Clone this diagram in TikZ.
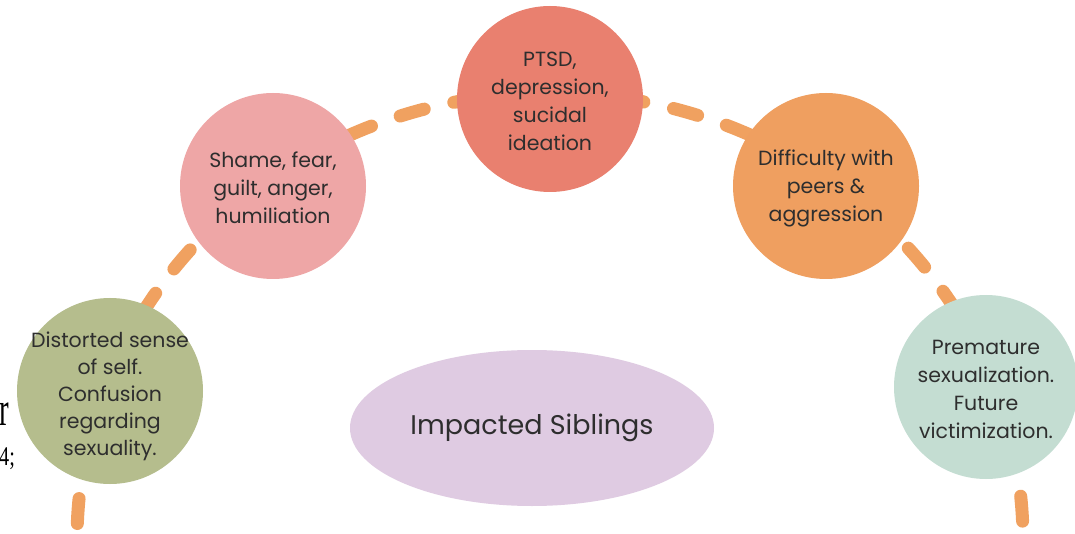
\documentclass[tikz,border=0pt]{standalone}
\usepackage{fontspec}
\setmainfont{Poppins}
\newfontfamily\strayserif{Liberation Serif}
\usetikzlibrary{shapes.geometric}
\definecolor{cgreen}{RGB}{181,189,141}
\definecolor{cpink}{RGB}{238,166,166}
\definecolor{cred}{RGB}{233,128,111}
\definecolor{corange}{RGB}{239,159,96}
\definecolor{cmint}{RGB}{196,221,210}
\definecolor{clilac}{RGB}{223,203,226}
\definecolor{cdash}{RGB}{240,161,96}
\definecolor{ctext}{RGB}{46,46,46}
\tikzset{
  bubble/.style={circle, minimum size=186pt, inner sep=0pt},
  bubbletext/.style={align=center, inner sep=0pt, text=ctext,
    font=\fontsize{20.5}{28}\selectfont},
  arcdash/.style={draw=cdash, line width=13pt, line cap=round,
    dash pattern=on 25pt off 30.4pt, dash phase=38.9pt},
  stray/.style={anchor=base west, inner sep=0pt, text=black}
}
\begin{document}
\begin{tikzpicture}[x=1pt,y=-1pt]
\useasboundingbox (0,0) rectangle (1075,534);
\clip (0,0) rectangle (1075,534);
\fill[white] (0,0) rectangle (1075,534);
% dashed arch behind the bubbles
\draw[arcdash] plot[domain=180:0,samples=300] ({550+473*cos(\x)},{540-447*sin(\x)});
% bubbles
\node[bubble, fill=cgreen] (self) at (110,391) {};
\node[bubble, fill=cpink] (shame) at (273,186) {};
\node[bubble, fill=cred] (ptsd) at (550,99) {};
\node[bubble, fill=corange] (peers) at (826,186) {};
\node[bubble, fill=cmint, minimum size=184pt] (future) at (986,387) {};
% bubble texts
\node[bubbletext, font=\fontsize{20.5}{27}\selectfont] (selft) at ([yshift=-5pt]self.center) {Distorted sense\\of self.\\Confusion\\regarding\\sexuality.};
\node[bubbletext] (shamet) at ([yshift=-2pt]shame.center) {Shame, fear,\\guilt, anger,\\humiliation};
\node[bubbletext] (ptsdt) at ([yshift=-2pt]ptsd.center) {PTSD,\\depression,\\sucidal\\ideation};
\node[bubbletext] (peerst) at ([yshift=-2pt]peers.center) {Difficulty with\\peers \&\\aggression};
\node[bubbletext] (futuret) at ([yshift=-2pt]future.center) {Premature\\sexualization.\\Future\\victimization.};
% centre ellipse
\node[ellipse, fill=clilac, minimum width=364pt, minimum height=156pt, inner sep=0pt,
  text=ctext, font=\fontsize{27}{30}\selectfont] (center) at (532,428) {Impacted Siblings};
% stray fragments at the left edge
\node[stray, font=\strayserif\fontsize{48}{48}\selectfont, xscale=0.6] (r) at (-1,425) {r};
\node[stray, font=\strayserif\fontsize{27}{27}\selectfont, xscale=0.75] (four) at (-1,465) {4;};
\end{tikzpicture}
\end{document}
